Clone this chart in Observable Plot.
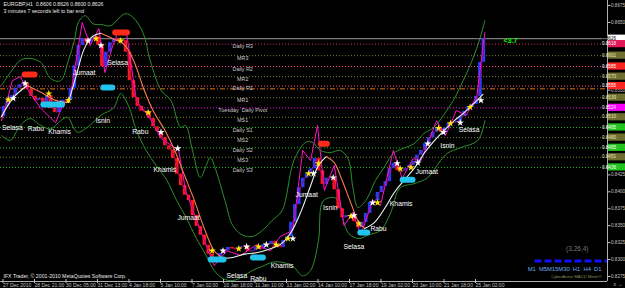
<!DOCTYPE html>
<html><head><meta charset="utf-8">
<script src="https://cdn.jsdelivr.net/npm/d3@7"></script>
<script src="https://cdn.jsdelivr.net/npm/@observablehq/plot@0.6"></script>
<style>
html,body{margin:0;padding:0;background:#000;}
#chart{width:625px;height:288px;overflow:hidden;}
svg{display:block}
</style></head><body><div id="chart"></div>
<script>
const FONT = "'Liberation Sans', Arial, sans-serif";

// ---- axis ticks ----
const tickBars = [0,32,64,96,128,160,192,224,256,288,320,352,384,416,448,480];
const tickLabels = ["27 Dec 2010","28 Dec 21:00","30 Dec 05:00","31 Dec 13:00","4 Jan 18:00","5 Jan 10:00","7 Jan 02:00","10 Jan 18:00","11 Jan 10:00","13 Jan 02:00","14 Jan 10:00","17 Jan 18:00","19 Jan 02:00","20 Jan 10:00","21 Jan 18:00","25 Jan 02:00"];
const yTicks = [0.8275,0.8300,0.8325,0.8350,0.8375,0.8400,0.8425,0.8450,0.8475,0.8500,0.8525,0.8550,0.8575,0.8600,0.8625,0.8650,0.8675];

// ---- close prices (H1 bars, sampled every 4 bars) ----
const closeBars = d3.range(0, 492, 4).concat([491]);
const closePrices = [
0.8511,0.8526,0.8536,0.8542,0.8553,0.8558,0.8560,0.8551,0.8541,0.8535,
0.8538,0.8530,0.8542,0.8523,0.8517,0.8530,0.8535,0.8535,0.8553,0.8586,
0.8616,0.8626,0.8620,0.8626,0.8629,0.8617,0.8585,0.8606,0.8620,0.8626,
0.8622,0.8623,0.8606,0.8564,0.8539,0.8526,0.8519,0.8517,0.8508,0.8496,
0.8489,0.8480,0.8468,0.8462,0.8449,0.8426,0.8409,0.8395,0.8387,0.8365,
0.8349,0.8336,0.8321,0.8308,0.8299,0.8302,0.8309,0.8313,0.8318,0.8316,
0.8315,0.8319,0.8319,0.8312,0.8313,0.8318,0.8315,0.8322,0.8322,0.8327,
0.8322,0.8318,0.8328,0.8334,0.8355,0.8381,0.8406,0.8420,0.8427,0.8434,
0.8449,0.8431,0.8411,0.8420,0.8421,0.8403,0.8375,0.8362,0.8365,0.8365,
0.8356,0.8347,0.8355,0.8368,0.8384,0.8387,0.8399,0.8408,0.8415,0.8434,
0.8442,0.8431,0.8431,0.8434,0.8439,0.8445,0.8454,0.8461,0.8471,0.8480,
0.8488,0.8494,0.8488,0.8494,0.8501,0.8502,0.8504,0.8511,0.8519,0.8525,
0.8529,0.8541,0.8591,
0.8626];

// ---- moving average ----
const maBars = [0,12,26,40,55,68,76,84,92,101,113,125,135,145,155,166,176,186,196,206,216,225,235,247,259,271,283,294,304,314,322,330,338,346,355,363,369,379,389,399,409,420,430,440,450,460,470,481,489];
const maPrices = [0.8511,0.8539,0.8557,0.8547,0.8535,0.8532,0.8572,0.8611,0.8629,0.8634,0.8626,0.8617,0.8591,0.8550,0.8517,0.8491,0.8461,0.8424,0.8387,0.8346,0.8313,0.8302,0.8303,0.8308,0.8310,0.8315,0.8322,0.8340,0.8370,0.8409,0.8439,0.8452,0.8443,0.8417,0.8383,0.8355,0.8346,0.8355,0.8375,0.8399,0.8417,0.8436,0.8458,0.8476,0.8491,0.8505,0.8517,0.8532,0.8544];

// ---- bands ----
const upBars = [0,9,19,29,40,50,60,68,74,78,85,93,101,111,119,126,134,144,151,162,172,182,187,194,202,208,212,218,227,235,245,255,265,275,285,297,309,316,324,334,344,352,357,362,370,380,390,398,408,419,429,439,449,459,469,480,487,491];
const upPrices = [0.8557,0.8576,0.8594,0.8597,0.8591,0.8567,0.8564,0.8594,0.8623,0.8650,0.8660,0.8648,0.8647,0.8645,0.8656,0.8663,0.8657,0.8634,0.8594,0.8550,0.8535,0.8495,0.8498,0.8461,0.8421,0.8439,0.8451,0.8431,0.8387,0.8350,0.8336,0.8334,0.8343,0.8358,0.8372,0.8446,0.8473,0.8473,0.8461,0.8458,0.8461,0.8449,0.8406,0.8377,0.8387,0.8417,0.8439,0.8457,0.8464,0.8471,0.8486,0.8495,0.8513,0.8535,0.8564,0.8601,0.8631,0.8653];
const loBars = [0,9,19,29,40,50,60,67,77,87,101,114,121,129,137,147,157,168,178,188,198,208,216,225,235,245,255,265,275,285,296,306,314,322,327,341,347,353,363,372,385,395,405,419,433,446,453,466,484,491];
const loPrices = [0.8483,0.8476,0.8498,0.8508,0.8498,0.8493,0.8505,0.8510,0.8488,0.8495,0.8513,0.8524,0.8545,0.8527,0.8491,0.8461,0.8439,0.8417,0.8387,0.8361,0.8331,0.8306,0.8284,0.8272,0.8269,0.8275,0.8284,0.8290,0.8296,0.8296,0.8290,0.8276,0.8284,0.8328,0.8387,0.8390,0.8358,0.8338,0.8331,0.8336,0.8343,0.8368,0.8406,0.8412,0.8421,0.8446,0.8457,0.8465,0.8476,0.8505];

// ---- zigzag (high/low swings) ----
const zzBars = [0,11,19,27,40,55,62,70,82,90,99,105,113,119,127,137,151,162,180,187,202,216,229,243,259,273,283,296,306,314,321,328,338,348,357,365,377,385,398,407,418,426,442,451,462,472,483,491];
const zzPrices = [0.8505,0.8564,0.8570,0.8550,0.8523,0.8502,0.8527,0.8542,0.8650,0.8616,0.8641,0.8576,0.8616,0.8638,0.8635,0.8535,0.8508,0.8479,0.8461,0.8402,0.8343,0.8291,0.8313,0.8306,0.8322,0.8313,0.8334,0.8343,0.8461,0.8446,0.8498,0.8402,0.8439,0.8350,0.8370,0.8336,0.8387,0.8380,0.8461,0.8420,0.8449,0.8446,0.8505,0.8483,0.8520,0.8513,0.8542,0.8635];

// ---- stars ----
const starBars = [7,12,24,48,60,68,88,96,101,121,149,162,179,214,225,241,249,261,269,279,291,296,312,317,322,337,355,358,363,377,382,402,405,416,423,433,444,449,456,466,476,487];
const starPrices = [0.8536,0.8538,0.8560,0.8545,0.8530,0.8535,0.8623,0.8626,0.8616,0.8623,0.8517,0.8488,0.8464,0.8313,0.8313,0.8316,0.8319,0.8319,0.8322,0.8322,0.8331,0.8331,0.8427,0.8427,0.8442,0.8421,0.8364,0.8365,0.8353,0.8384,0.8384,0.8442,0.8434,0.8436,0.8443,0.8471,0.8494,0.8488,0.8501,0.8502,0.8525,0.8535];
const starKinds = ("YWWYWYWYWY" + "YWWYWYWYWY" + "YWYWYWYWYW" + "YWYYWWYWYW" + "YW").split("");

// ---- signal boxes ----
const sigStart = [21,113,322,40,101,210,253,362,405];
const sigEnd   = [37,131,334,65,116,229,269,375,421];
const sigPrice = [0.8573,0.8635,0.8471,0.8529,0.8554,0.8300,0.8303,0.8340,0.8418];
const sigType  = ["sell","sell","sell","buy","buy","buy","buy","buy","buy"];

// ---- day labels ----
const dayNames  = ["Selasa","Rabu","Khamis","Jumaat","Isnin","Selasa","Rabu","Khamis","Jumaat","Selasa","Rabu","Khamis","Jumaat","Isnin","Selasa","Rabu","Khamis","Jumaat","Isnin","Selasa"];
const dayBars   = [11,35,59,84,103,118,141,166,190,239,261,285,310,334,358,383,406,432,453,475];
const dayPrices = [0.8495,0.8493,0.8489,0.8575,0.8505,0.8591,0.8488,0.8433,0.8362,0.8276,0.8271,0.8291,0.8395,0.8377,0.8319,0.8346,0.8383,0.8429,0.8468,0.8491];

// ---- pivots ----
const pivotNames  = ["Daily R3","MR3","Daily R2","MR2","Daily R1","MR1","Tuesday  Daily Pivot","MS1","Daily S1","MS2","Daily S2","MS3","Daily S3"];
const pivotPrices = [0.8618,0.8601,0.8585,0.8570,0.8556,0.8539,0.8524,0.8510,0.8495,0.8480,0.8465,0.8451,0.8436];
const pivotKinds  = ["R3","M","R","M","R","M","P","M","S","M","S","M","S"];
const pivotLabelBar = 245;
const lastPrice = 0.8626;
const prevLevel = 0.8552;
const headerText = ["EURGBP,H1  0.8606 0.8626 0.8600 0.8626", "3 minutes 7 seconds left to bar end"];

// ---- build tables ----
const lineCol = {R3:"#d8286a", R:"#ff3a8c", M:"#7d7d2a", P:"#ff00ff", S:"#1fb81f"};
const badgeCol = {R3:"#e0185a", R:"#ff2424", M:"#6e6e30", P:"#ff00ff", S:"#22c422"};
const pivots = pivotNames.map((n,i)=>({n, p:pivotPrices[i], k:pivotKinds[i]}));
const badgeLevels = [lastPrice].concat(pivotPrices);
// axis labels hidden under a price badge are not drawn (as in the terminal)
const visibleTicks = yTicks.filter(t => badgeLevels.every(b => Math.abs(b - t) > 0.0006));
const segs = [];
for (let i=1;i<closeBars.length;i++) segs.push({x:(closeBars[i-1]+closeBars[i])/2, y1:closePrices[i-1], y2:closePrices[i], up:closePrices[i]>=closePrices[i-1]});
const closeData = closeBars.map((b,i)=>({x:b,y:closePrices[i]}));
const maData=[]; {let seg=0, prev=null;
 for(let i=1;i<maBars.length;i++){const up=maPrices[i]>=maPrices[i-1];
  if(up!==prev){seg++; maData.push({x:maBars[i-1],y:maPrices[i-1],seg,up});}
  maData.push({x:maBars[i],y:maPrices[i],seg,up}); prev=up;}}
const upData = upBars.map((b,i)=>({x:b,y:upPrices[i]}));
const loData = loBars.map((b,i)=>({x:b,y:loPrices[i]}));
const zzData = zzBars.map((b,i)=>({x:b,y:zzPrices[i]}));
const stars = starBars.map((b,i)=>({x:b,y:starPrices[i],k:starKinds[i]}));
const sigs = sigStart.map((s,i)=>({s, e:sigEnd[i], y:sigPrice[i], t:sigType[i]}));
const days = dayNames.map((n,i)=>({n,x:dayBars[i],y:dayPrices[i]}));

const xDom = [-1.016, 615.6];
const chart = Plot.plot({
  width:625, height:288,
  marginTop:0, marginRight:18, marginBottom:7, marginLeft:0,
  style:{background:"#000", color:"#c0c0c0", fontFamily:FONT},
  x:{domain:xDom},
  y:{domain:[0.826764, 0.86824]},
  marks:[
    Plot.ruleY(pivots,{y:"p", stroke:d=>lineCol[d.k], strokeWidth:1, strokeDasharray:"1,2"}),
    Plot.ruleY([prevLevel],{stroke:"#e07820", strokeWidth:1, strokeDasharray:"5,2,1,2"}),
    Plot.ruleY([lastPrice],{stroke:"#9a9a9a", strokeWidth:1}),
    Plot.text(pivots,{x:()=>pivotLabelBar, y:"p", text:"n", dy:2.5, fill:"#c8c8c8", fontSize:5.4}),
    Plot.line(upData,{x:"x",y:"y",stroke:"#2f8f2f",strokeWidth:1,curve:"catmull-rom"}),
    Plot.line(loData,{x:"x",y:"y",stroke:"#2f8f2f",strokeWidth:1,curve:"catmull-rom"}),
    Plot.ruleX(segs,{x:"x", y1:"y1", y2:"y2", stroke:d=>d.up?"#2040ff":"#ff1a1a", strokeWidth:3.6}),
    Plot.line(zzData,{x:"x",y:"y",stroke:"#ff10c8",strokeWidth:1}),
    Plot.line(closeData,{x:"x",y:"y",stroke:"#b0006a",strokeWidth:0.8}),
    Plot.line(maData,{x:"x",y:"y",z:"seg",stroke:d=>d.up?"#eef6f6":"#ff7a50",strokeWidth:1.1,curve:"catmull-rom"}),
    Plot.dot(stars,{x:"x",y:"y",symbol:"star",r:2.3,fill:d=>d.k==="Y"?"#ffe600":"#ffffff",stroke:"none"}),
    Plot.ruleY(sigs,{x1:d=>d.s+3, x2:d=>d.e-3, y:"y", stroke:d=>d.t==="sell"?"#ff2a1a":"#22c4ee", strokeWidth:6, strokeLinecap:"round"}),
    Plot.text(days,{x:"x",y:"y",text:"n",fill:"#ffffff",fontSize:6.8}),
    Plot.text(["<3.7"],{x:()=>510,y:()=>0.8623,textAnchor:"start",fill:"#00ff00",fontSize:7,fontWeight:"bold"}),
    Plot.text([headerText[0]],{frameAnchor:"top-left",dx:3,dy:2,fill:"#e8e8e8",fontSize:5.2}),
    Plot.text([headerText[1]],{frameAnchor:"top-left",dx:3,dy:9,fill:"#e8e8e8",fontSize:5.2}),
    Plot.text(["IFX Trader, © 2001-2010 MetaQuotes Software Corp."],{frameAnchor:"bottom-left",dx:3,dy:-4,fill:"#e8e8e8",fontSize:5.2}),
    Plot.text(["(3,26,4)"],{frameAnchor:"bottom-right",textAnchor:"end",lineAnchor:"middle",dx:-19,dy:-33,fill:"#7a7a7a",fontSize:6.5}),
    Plot.ruleY([0.8298],{x1:()=>542,x2:()=>xDom[1],stroke:"#1010ff",strokeWidth:3,strokeDasharray:"7,3"}),
    Plot.text(["M1  M5M15M30  H1  H4  D1"],{frameAnchor:"bottom-right",textAnchor:"end",lineAnchor:"middle",dx:-6,dy:-12,fill:"#6aaaf0",fontSize:5.8}),
    Plot.text(["CyberAnnie MACD Meter®"],{frameAnchor:"bottom-right",textAnchor:"end",lineAnchor:"middle",dx:-6,dy:-5,fill:"#8c8c5a",fontSize:4.2}),
    Plot.ruleX([xDom[1]],{stroke:"#b0b0b0"}),
    Plot.ruleY([0.826764],{stroke:"#b0b0b0"}),
    Plot.axisY(visibleTicks,{anchor:"right",tickSize:2.5,tickPadding:1,fontSize:4.6,tickFormat:d=>d.toFixed(4)}),
    Plot.axisX(tickBars,{anchor:"bottom",tickSize:4,tickPadding:0,dy:-2,textAnchor:"start",dx:1.5,fontSize:5,tickFormat:d=>tickLabels[tickBars.indexOf(d)]})
  ]
});
document.getElementById("chart").appendChild(chart);

// price badges on the right axis, placed with the plot's own y scale
const yS = chart.scale("y");
const badges = pivots.map(d=>({p:d.p, bg:badgeCol[d.k], fg:d.k==="M"?"#e6e6b8":"#ffffff"}));
badges.unshift({p:lastPrice, bg:"#ffffff", fg:"#000000"});
const g = d3.select(chart).append("g").attr("font-family",FONT).attr("font-size",4.6);
badges.forEach(b=>{
  const y = yS.apply(b.p);
  g.append("rect").attr("x",608).attr("y",y-3.6).attr("width",17).attr("height",7.2).attr("fill",b.bg);
  g.append("text").attr("x",609).attr("y",y).attr("dy","0.35em").attr("fill",b.fg).text(b.p.toFixed(4));
});
</script></body></html>
